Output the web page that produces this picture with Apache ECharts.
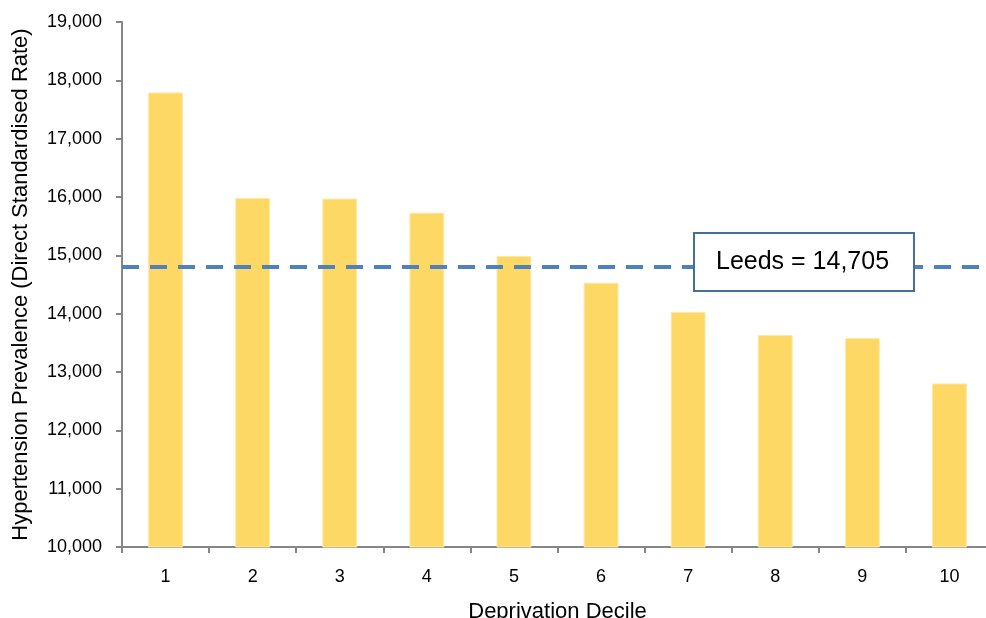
<!DOCTYPE html>
<html>
<head>
<meta charset="utf-8">
<script src="https://cdn.jsdelivr.net/npm/echarts@6/dist/echarts.min.js"></script>
<style>
  html, body { margin: 0; padding: 0; background: #fff; }
  #chart { width: 986px; height: 618px; }
</style>
</head>
<body>
<div id="chart"></div>
<script>
// data
const deciles = ['1', '2', '3', '4', '5', '6', '7', '8', '9', '10']
const prevalence = [17792, 15985, 15973, 15732, 14989, 14531, 14028, 13633, 13582, 12805]
const leedsLine = 14805 // where the dashed line sits on the axis
const leedsLabel = 'Leeds = 14,705'

const font = 'Liberation Sans, Arial, sans-serif'
const axisGrey = '#868686'

const myChart = echarts.init(document.getElementById('chart'))

const option = {
  animation: false,
  grid: {
    left: 122,
    top: 22,
    bottom: 71,
    right: -7,
    containLabel: false,
    outerBoundsMode: 'none'
  },
  xAxis: {
    type: 'category',
    data: deciles,
    name: 'Deprivation Decile',
    nameLocation: 'middle',
    nameGap: 54,
    nameTextStyle: { fontFamily: font, fontSize: 22, color: '#000' },
    axisLine: { lineStyle: { color: axisGrey, width: 2 } },
    axisTick: { show: true, length: 6, lineStyle: { color: axisGrey, width: 2 } },
    axisLabel: { fontFamily: font, fontSize: 18, color: '#000', margin: 21 },
    splitLine: { show: false }
  },
  yAxis: {
    type: 'value',
    min: 10000,
    max: 19000,
    interval: 1000,
    name: 'Hypertension Prevalence (Direct Standardised Rate)',
    nameLocation: 'middle',
    nameGap: 90,
    nameTextStyle: { fontFamily: font, fontSize: 22, color: '#000' },
    axisLine: { show: true, lineStyle: { color: axisGrey, width: 2 } },
    axisTick: { show: true, length: 6, lineStyle: { color: axisGrey, width: 2 } },
    axisLabel: {
      fontFamily: font,
      fontSize: 18,
      color: '#000',
      margin: 20,
      formatter: v => v.toLocaleString('en-GB')
    },
    splitLine: { show: false }
  },
  graphic: [
    {
      type: 'rect',
      left: 693,
      top: 232,
      z: 100,
      zlevel: 1,
      shape: { x: 0, y: 0, width: 220, height: 58 },
      style: { fill: '#fff', stroke: '#41719c', lineWidth: 2 }
    },
    {
      type: 'text',
      left: 716,
      top: 250,
      z: 101,
      zlevel: 1,
      style: {
        text: leedsLabel,
        fontFamily: font,
        fontSize: 25,
        fill: '#000'
      }
    }
  ],
  series: [
    {
      type: 'bar',
      data: prevalence,
      barWidth: '40%',
      itemStyle: {
        color: '#fdd865',
        borderColor: '#fee9a8',
        borderWidth: 1
      },
      markLine: {
        silent: true,
        symbol: 'none',
        label: { show: false },
        lineStyle: {
          color: '#4f81bd',
          width: 4,
          type: [17, 11]
        },
        data: [{ yAxis: leedsLine }]
      }
    }
  ]
}

myChart.setOption(option)
</script>
</body>
</html>
